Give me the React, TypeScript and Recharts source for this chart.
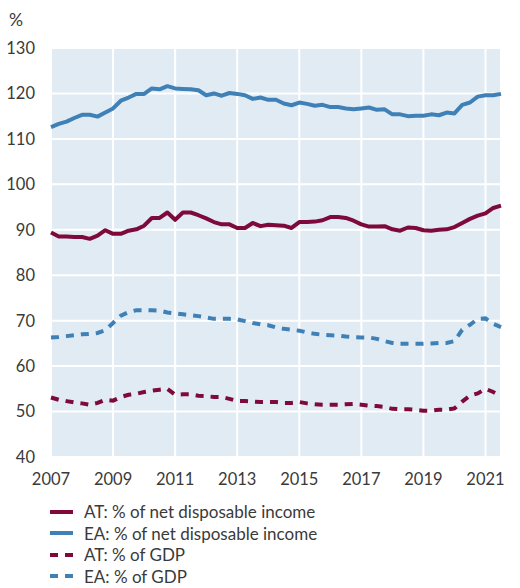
import { LineChart, Line, XAxis, YAxis, CartesianGrid, Legend, Label } from 'recharts';

// quarterly observations, 2007 Q1 onwards
const atIncome = [
    89.4, 88.5, 88.5, 88.4, 88.4, 88.0, 88.7, 89.9, 89.1, 89.1, 89.8, 90.1, 90.9, 92.6, 92.6, 93.8,
    92.2, 93.8, 93.8, 93.2, 92.5, 91.7, 91.2, 91.2, 90.4, 90.4, 91.5, 90.8, 91.1, 91.0, 90.9, 90.4,
    91.7, 91.7, 91.8, 92.1, 92.8, 92.8, 92.6, 92.0, 91.2, 90.7, 90.7, 90.8, 90.1, 89.8, 90.5, 90.4,
    89.9, 89.8, 90.0, 90.1, 90.6, 91.5, 92.4, 93.1, 93.6, 94.8, 95.3,
];
const eaIncome = [
    112.6, 113.3, 113.8, 114.6, 115.3, 115.3, 114.9, 115.8, 116.7, 118.4, 119.1, 119.9, 119.9, 121.1, 120.9, 121.6,
    121.1, 121.0, 120.9, 120.7, 119.6, 120.0, 119.5, 120.1, 119.9, 119.6, 118.8, 119.1, 118.6, 118.6, 117.8, 117.4,
    118.0, 117.7, 117.3, 117.5, 117.0, 117.0, 116.7, 116.5, 116.7, 116.9, 116.4, 116.5, 115.4, 115.4, 115.0, 115.1,
    115.1, 115.4, 115.2, 115.8, 115.6, 117.5, 118.0, 119.3, 119.6, 119.6, 119.9,
];
const atGdp = [
    53.1, 52.6, 52.3, 52.0, 51.8, 51.5, 51.9, 52.6, 52.4, 53.2, 53.7, 53.9, 54.3, 54.6, 54.8, 55.0,
    53.7, 53.8, 53.8, 53.5, 53.4, 53.2, 53.2, 52.8, 52.3, 52.3, 52.2, 52.1, 52.1, 52.1, 51.9, 51.9,
    52.1, 51.8, 51.6, 51.5, 51.5, 51.5, 51.6, 51.7, 51.5, 51.3, 51.2, 51.0, 50.6, 50.5, 50.5, 50.4,
    50.2, 50.2, 50.4, 50.4, 50.7, 52.2, 53.5, 54.0, 55.0, 54.3, 53.4,
];
const eaGdp = [
    66.3, 66.4, 66.6, 66.8, 67.0, 67.1, 67.3, 67.9, 69.5, 71.1, 71.9, 72.3, 72.3, 72.3, 72.2, 71.8,
    71.6, 71.4, 71.2, 71.0, 70.7, 70.4, 70.4, 70.4, 70.3, 69.9, 69.5, 69.2, 69.0, 68.5, 68.2, 68.0,
    67.8, 67.4, 67.1, 66.9, 66.8, 66.7, 66.5, 66.4, 66.3, 66.3, 66.0, 65.5, 65.1, 64.9, 64.9, 64.9,
    64.9, 65.0, 65.1, 65.1, 65.5, 68.0, 69.1, 70.4, 70.5, 69.3, 68.6,
];

const yearTicks = [2007, 2009, 2011, 2013, 2015, 2017, 2019, 2021];
const valueTicks = [40, 50, 60, 70, 80, 90, 100, 110, 120, 130];

const data = atIncome.map((v, i) => ({
    t: 2007 + i / 4,
    atIncome: v,
    eaIncome: eaIncome[i],
    atGdp: atGdp[i],
    eaGdp: eaGdp[i],
}));

const AT = '#7e0a3b';
const EA = '#3f80b6';
const FONT = 'Lato, "Open Sans", sans-serif';
const TEXT = '#3a3a3a';

const legendItems = [
    { label: 'AT: % of net disposable income', color: AT, dashed: false },
    { label: 'EA: % of net disposable income', color: EA, dashed: false },
    { label: 'AT: % of GDP', color: AT, dashed: true },
    { label: 'EA: % of GDP', color: EA, dashed: true },
];

function ChartLegend() {
    return (
        <div style={{ fontFamily: FONT, fontSize: 17, color: TEXT }}>
            {legendItems.map((it) => (
                <div key={it.label} style={{ display: 'flex', alignItems: 'center', height: 21.5 }}>
                    <svg width={34} height={10} style={{ marginLeft: 50, flexShrink: 0 }}>
                        <line x1={0} y1={5} x2={23} y2={5} stroke={it.color} strokeWidth={4}
                            strokeDasharray={it.dashed ? '8 7' : undefined} />
                    </svg>
                    <span>{it.label}</span>
                </div>
            ))}
        </div>
    );
}

export default function App() {
    const tick = { fill: TEXT, fontSize: 16.5, fontFamily: FONT };
    return (
        <div style={{ position: 'absolute', left: 0, top: 0, width: 520, height: 588, background: '#fff' }}>
            <LineChart width={520} height={588} data={data} margin={{ top: 48, right: 19, bottom: 1, left: 0 }}>
                <CartesianGrid fill="#e1ebf4" fillOpacity={1} stroke="#ffffff" strokeWidth={2} />
                <XAxis dataKey="t" type="number" domain={[2007, 2021.5]} ticks={yearTicks}
                    axisLine={false} tickLine={false} tickSize={0} tickMargin={16} height={44} tick={tick} />
                <YAxis domain={[40, 130]} ticks={valueTicks} axisLine={false} tickLine={false}
                    tickSize={0} tickMargin={16} width={51} tick={tick}>
                    <Label content={() => (
                        <text x={9} y={26} fill={TEXT} fontSize={17.5} fontFamily={FONT}>%</text>
                    )} />
                </YAxis>
                <Legend verticalAlign="bottom" align="left" content={() => <ChartLegend />}
                    wrapperStyle={{ left: 0, width: 520 }} />
                <Line type="linear" dataKey="eaGdp" stroke={EA} strokeWidth={4} strokeDasharray="8 7"
                    dot={false} isAnimationActive={false} />
                <Line type="linear" dataKey="atGdp" stroke={AT} strokeWidth={4} strokeDasharray="8 7"
                    dot={false} isAnimationActive={false} />
                <Line type="linear" dataKey="eaIncome" stroke={EA} strokeWidth={4} strokeLinejoin="round"
                    dot={false} isAnimationActive={false} />
                <Line type="linear" dataKey="atIncome" stroke={AT} strokeWidth={4} strokeLinejoin="round"
                    dot={false} isAnimationActive={false} />
            </LineChart>
        </div>
    );
}
